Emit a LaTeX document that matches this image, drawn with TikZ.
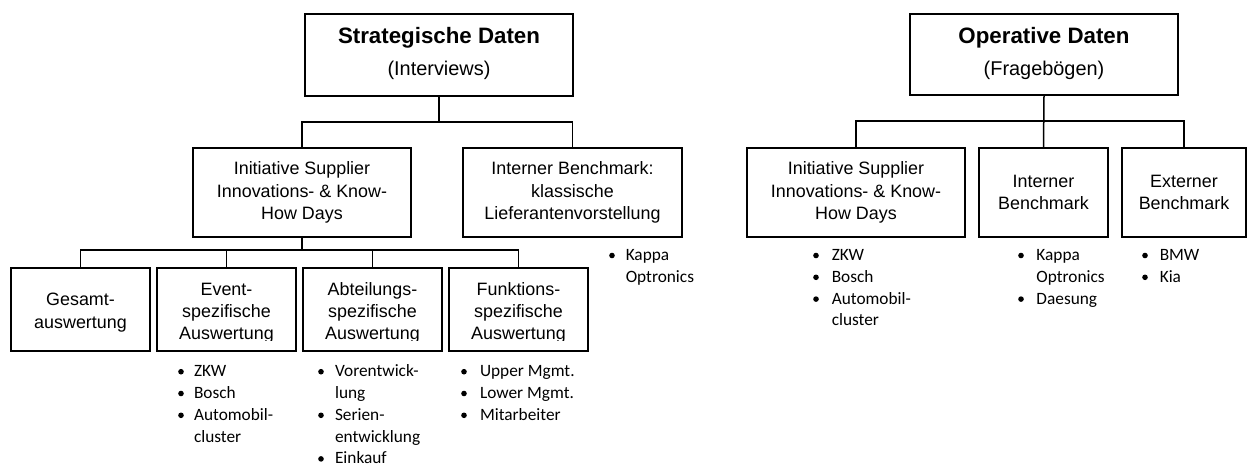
\documentclass[tikz,border=0pt]{standalone}
\usepackage{fontspec}
\setmainfont{Liberation Sans}
\newfontfamily\listfont{Carlito}

% bullet line: name, bullet x, text x, baseline y, text
\newcommand\litem[5]{%
  \node[ltext, anchor=base west] (#1) at (#3,#4) {#5};
  \fill (#2,#4) ++(0,-5) circle (2.8pt);}
% continuation line without bullet: name, text x, baseline y, text
\newcommand\lcont[4]{%
  \node[ltext, anchor=base west] (#1) at (#2,#3) {#4};}

\begin{document}
\begin{tikzpicture}[x=1pt, y=-1pt, line width=1.5pt,
  box/.style={draw, line width=1.5pt, inner sep=0pt, align=center,
    font=\fontsize{17.9}{22.5}\selectfont},
  gbox/.style={box, minimum width=139pt, minimum height=83pt},
  gtext/.style={inner sep=0pt, align=center, font=\fontsize{17.9}{22.3}\selectfont},
  titlet/.style={inner sep=0pt, font=\bfseries\fontsize{22.3}{26}\selectfont},
  subt/.style={inner sep=0pt, font=\fontsize{19.9}{24}\selectfont},
  ltext/.style={inner sep=0pt, font=\listfont\fontsize{17.3}{21.8}\selectfont}]
\useasboundingbox (0,0) rectangle (1247,463);

% ---- strategic branch ----
\node[box, minimum width=268pt, minimum height=82pt] (strat) at (439,55) {};
\node[titlet, anchor=base] (stratT) at (439,43.5) {Strategische Daten};
\node[subt, anchor=base] (stratS) at (439,75) {(Interviews)};

\node[box, minimum width=218pt, minimum height=89pt] (c1) at (302,192.5)
  {Initiative Supplier\\Innovations- \& Know-\\How Days};
\node[box, minimum width=219pt, minimum height=89pt] (c2) at (572.5,192.5)
  {Interner Benchmark:\\klassische\\Lieferantenvorstellung};

\node[gbox] (g1) at (80.5,309.5) {};
\node[gbox] (g2) at (226.5,309.5) {};
\node[gbox] (g3) at (372.5,309.5) {};
\node[gbox] (g4) at (518.5,309.5) {};

% text frames of the lower boxes cut off below the last baseline
\node[gtext] (g1t) at ([yshift=-3pt]g1.center) {Gesamt-\\auswertung};
\begin{scope}
  \clip (g2.north west) rectangle ([yshift=11pt]g2.south east);
  \node[gtext] (g2t) at ([yshift=-3.5pt]g2.center) {Event-\\spezifische\\Auswertung};
\end{scope}
\begin{scope}
  \clip (g3.north west) rectangle ([yshift=11pt]g3.south east);
  \node[gtext] (g3t) at ([yshift=-3.5pt]g3.center) {Abteilungs-\\spezifische\\Auswertung};
\end{scope}
\begin{scope}
  \clip (g4.north west) rectangle ([yshift=11pt]g4.south east);
  \node[gtext] (g4t) at ([yshift=-3.5pt]g4.center) {Funktions-\\spezifische\\Auswertung};
\end{scope}

\coordinate (sbus) at (439,122);
\draw (strat.south) -- (sbus);
\draw (c1.north) |- (sbus) -| (c2.north);

\coordinate (gbus) at (302,250);
\draw (c1.south) -- (gbus);
\draw (g1.north) |- (gbus) -| (g4.north);
\draw (g2.north) -- (g2.north |- gbus);
\draw (g3.north) -- (g3.north |- gbus);

% ---- operative branch ----
\node[box, minimum width=268pt, minimum height=81pt] (op) at (1044,54.5) {};
\node[titlet, anchor=base] (opT) at (1044,43.5) {Operative Daten};
\node[subt, anchor=base] (opS) at (1044,75) {(Fragebögen)};

\node[box, minimum width=218pt, minimum height=89pt] (o1) at (856,192.5)
  {Initiative Supplier\\Innovations- \& Know-\\How Days};
\node[box, minimum width=129pt, minimum height=89pt] (o2) at (1043.5,192.5)
  {Interner\\Benchmark};
\node[box, minimum width=124pt, minimum height=89pt] (o3) at (1184,192.5)
  {Externer\\Benchmark};

\coordinate (obus) at (1044,121);
\draw (op.south) -- (o2.north);
\draw (o1.north) |- (obus) -| (o3.north);

% ---- bullet lists ----
\litem{ev1}{181}{193.3}{376.7}{ZKW}
\litem{ev2}{181}{193.3}{398.5}{Bosch}
\litem{ev3}{181}{193.3}{420.3}{Automobil-}
\lcont{ev4}{193.3}{442.1}{cluster}

\litem{ab1}{321}{334.3}{376.7}{Vorentwick-}
\lcont{ab2}{334.3}{398.5}{lung}
\litem{ab3}{321}{334.3}{420.3}{Serien-}
\lcont{ab4}{334.3}{442.1}{entwicklung}
\litem{ab5}{321}{334.3}{463.9}{Einkauf}

\litem{fu1}{464}{479.3}{376.7}{Upper Mgmt.}
\litem{fu2}{464}{479.3}{398.5}{Lower Mgmt.}
\litem{fu3}{464}{479.3}{420.3}{Mitarbeiter}

\litem{kp1}{612}{625}{260.5}{Kappa}
\lcont{kp2}{625}{282.3}{Optronics}

\litem{oz1}{816}{831}{260.5}{ZKW}
\litem{oz2}{816}{831}{282.3}{Bosch}
\litem{oz3}{816}{831}{304.1}{Automobil-}
\lcont{oz4}{831}{325.9}{cluster}

\litem{oi1}{1021}{1035.7}{260.5}{Kappa}
\lcont{oi2}{1035.7}{282.3}{Optronics}
\litem{oi3}{1021}{1035.7}{304.1}{Daesung}

\litem{oe1}{1145}{1159}{260.5}{BMW}
\litem{oe2}{1145}{1159}{282.3}{Kia}
\end{tikzpicture}
\end{document}
